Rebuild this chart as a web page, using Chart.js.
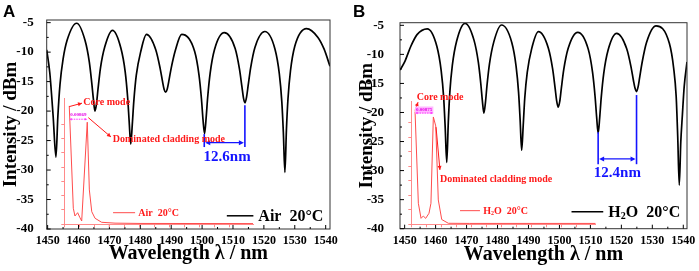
<!DOCTYPE html>
<html>
<head>
<meta charset="utf-8">
<script src="https://cdn.jsdelivr.net/npm/chart.js@4.4.1/dist/chart.umd.min.js"></script>
<style>
  html, body { margin: 0; padding: 0; background: #fff; }
  #wrap { position: relative; width: 699px; height: 271px; overflow: hidden; }
  canvas { position: absolute; top: 0; }
</style>
</head>
<body>
<div id="wrap">
  <canvas id="mainA" width="350" height="271" style="left:0"></canvas>
  <canvas id="insetA" width="350" height="271" style="left:0"></canvas>
  <canvas id="mainB" width="349" height="271" style="left:350px"></canvas>
  <canvas id="insetB" width="349" height="271" style="left:350px"></canvas>
</div>
<script>
// axis ticks
const tickWl = [1450, 1460, 1470, 1480, 1490, 1500, 1510, 1520, 1530, 1540];
const tickDb = [-40, -35, -30, -25, -20, -15, -10, -5];

// panel A : spectrum in air (wavelength nm, intensity dBm)
const wlA = [1449.7, 1450.7, 1451.8, 1452.7, 1453.3, 1454.0, 1455.0, 1456.3, 1459.4,
  1462.1, 1463.5, 1464.3, 1464.8, 1465.3, 1465.8, 1466.3, 1467.1, 1468.5, 1471.0,
  1473.7, 1475.1, 1475.9, 1476.4, 1476.9, 1477.4, 1477.9, 1478.7, 1480.1, 1482.0,
  1485.0, 1486.4, 1487.2, 1487.7, 1488.2, 1488.7, 1489.2, 1490.0, 1491.4, 1493.4,
  1497.6, 1499.0, 1499.8, 1500.3, 1500.8, 1501.3, 1501.8, 1502.6, 1504.0, 1507.2,
  1510.7, 1512.1, 1512.9, 1513.4, 1513.9, 1514.4, 1514.9, 1515.7, 1517.1, 1520.3,
  1523.6, 1525.0, 1525.8, 1526.3, 1526.8, 1527.3, 1527.8, 1528.6, 1530.0, 1533.8,
  1537.5, 1539.5, 1541.4];
const dbA = [-9.6, -13.5, -21.0, -27.8, -21.0, -15.5, -11.2, -8.0, -5.1,
  -8.0, -11.7, -15.3, -17.9, -20.0, -18.8, -16.3, -12.7, -9.1, -6.3,
  -9.3, -13.3, -17.7, -21.8, -25.6, -22.3, -18.3, -13.9, -10.0, -7.0,
  -9.6, -12.7, -15.0, -16.3, -16.8, -16.3, -15.0, -12.7, -9.6, -7.0,
  -9.9, -13.9, -18.0, -21.5, -23.8, -21.2, -17.7, -13.6, -9.6, -6.7,
  -9.4, -12.9, -15.9, -17.8, -18.6, -17.6, -15.7, -12.7, -9.2, -6.5,
  -9.5, -13.7, -18.4, -23.6, -30.4, -23.1, -17.9, -13.2, -9.0, -6.0,
  -7.5, -9.5, -12.4];

// panel B : spectrum in water
const wlB = [1448.5, 1450.0, 1452.0, 1454.0, 1457.3,
  1460.4, 1461.8, 1462.6, 1463.1, 1463.6, 1464.1, 1464.6, 1465.4, 1466.8, 1469.5,
  1472.4, 1473.8, 1474.6, 1475.1, 1475.6, 1476.1, 1476.6, 1477.4, 1478.8, 1481.3,
  1484.6, 1486.0, 1486.8, 1487.3, 1487.8, 1488.3, 1488.8, 1489.6, 1491.0, 1493.2,
  1496.4, 1497.8, 1498.6, 1499.1, 1499.6, 1500.1, 1500.6, 1501.4, 1502.8, 1505.9,
  1509.3, 1510.7, 1511.5, 1512.0, 1512.5, 1513.0, 1513.5, 1514.3, 1515.7, 1518.5,
  1521.7, 1523.1, 1523.9, 1524.4, 1524.9, 1525.4, 1525.9, 1526.7, 1528.1, 1531.2,
  1535.5, 1536.9, 1537.7, 1538.2, 1538.7, 1539.2, 1539.7, 1540.3, 1541.2];
const dbB = [-12.7, -11.3, -8.6, -6.6, -5.6,
  -8.6, -12.8, -17.4, -22.6, -28.6, -21.7, -16.5, -11.9, -7.7, -4.65,
  -7.55, -11.35, -15.05, -17.95, -20.1, -18.25, -15.35, -11.65, -7.85, -4.95,
  -7.95, -12.05, -16.55, -21.25, -26.5, -22.2, -17.5, -13.1, -9.1, -6.1,
  -8.9, -12.5, -15.8, -18.0, -19.1, -18.1, -15.9, -12.6, -9.0, -6.2,
  -9.1, -13.1, -17.2, -20.7, -23.6, -20.9, -17.4, -13.3, -9.3, -6.4,
  -9.0, -12.1, -14.5, -15.8, -16.4, -15.6, -14.0, -11.4, -8.0, -5.1,
  -8.1, -12.4, -17.2, -24.1, -32.5, -25.0, -20.5, -15.5, -11.3];

// insets: spatial frequency spectrum (arbitrary units)
const freqA = [0.33, 0.6, 0.71, 0.89, 1.03, 1.16, 1.53, 1.67, 1.83, 2.05, 2.49, 3.38, 5.05, 12.58];
const ampA = [8.27, 1.12, 0.58, 0.81, 0.49, 0.23, 7.13, 2.40, 0.88, 0.42, 0.14, 0.08, 0.06, 0.05];
const freqB = [0.25, 0.47, 0.65, 0.8, 0.96, 1.18, 1.31, 1.47, 1.63, 1.8, 2.03, 2.47, 3.9, 12.3];
const ampB = [7.77, 1.45, 0.41, 0.57, 0.41, 0.76, 1.45, 7.4, 6.78, 1.68, 0.33, 0.07, 0.06, 0.06];

const SERIF = "'Liberation Serif', 'Times New Roman', serif";
const RED = '#ff1a1a';
const INSET_AXIS = '#ff8a8a';
const BLUE = '#1414ff';
Chart.defaults.font.family = SERIF;

function line(ctx, x1, y1, x2, y2) {
  ctx.beginPath(); ctx.moveTo(x1, y1); ctx.lineTo(x2, y2); ctx.stroke();
}
function head(ctx, x, y, ang, len, w) {
  ctx.beginPath();
  ctx.moveTo(x, y);
  ctx.lineTo(x - len * Math.cos(ang) + w * Math.sin(ang), y - len * Math.sin(ang) - w * Math.cos(ang));
  ctx.lineTo(x - len * Math.cos(ang) - w * Math.sin(ang), y - len * Math.sin(ang) + w * Math.cos(ang));
  ctx.closePath(); ctx.fill();
}
// text with "_2" style subscripts
function rich(ctx, text, x, y, size) {
  let cx = x;
  for (let i = 0; i < text.length; i++) {
    if (text[i] === '_') {
      i++;
      ctx.font = 'bold ' + Math.round(size * 0.6) + 'px ' + SERIF;
      ctx.fillText(text[i], cx, y + size * 0.22);
      cx += ctx.measureText(text[i]).width;
    } else {
      ctx.font = 'bold ' + size + 'px ' + SERIF;
      ctx.fillText(text[i], cx, y);
      cx += ctx.measureText(text[i]).width;
    }
  }
}

function mainDeco(o) {
  return {
    id: 'mainDeco',
    afterDraw(chart) {
      const { ctx, chartArea: a, scales: { x, y } } = chart;
      ctx.save();
      ctx.strokeStyle = '#333';
      ctx.lineWidth = 1;
      ctx.strokeRect(a.left, a.top, a.right - a.left, a.bottom - a.top);
      // inward ticks
      ctx.strokeStyle = '#000';
      ctx.beginPath();
      tickWl.forEach(v => {
        const p = x.getPixelForValue(v);
        ctx.moveTo(p, a.bottom); ctx.lineTo(p, a.bottom - 4);
        if (v + 5 < x.max) {
          const m = x.getPixelForValue(v + 5);
          ctx.moveTo(m, a.bottom); ctx.lineTo(m, a.bottom - 2);
        }
      });
      tickDb.forEach(v => {
        const p = y.getPixelForValue(v);
        ctx.moveTo(a.left, p); ctx.lineTo(a.left + 4, p);
        if (v + 2.5 < y.max) {
          const m = y.getPixelForValue(v + 2.5);
          ctx.moveTo(a.left, m); ctx.lineTo(a.left + 2, m);
        }
      });
      ctx.stroke();

      // period marker
      const d = o.dim;
      const x1 = x.getPixelForValue(d.x1), x2 = x.getPixelForValue(d.x2);
      ctx.strokeStyle = BLUE; ctx.fillStyle = BLUE; ctx.lineWidth = 1.6;
      line(ctx, x1, y.getPixelForValue(d.top1), x1, y.getPixelForValue(d.bottom));
      line(ctx, x2, y.getPixelForValue(d.top2), x2, y.getPixelForValue(d.bottom));
      const ay = y.getPixelForValue(d.arrowY);
      ctx.lineWidth = 1.2;
      line(ctx, x1 + 3, ay, x2 - 3, ay);
      head(ctx, x1 + 1, ay, Math.PI, 5, 2.5);
      head(ctx, x2 - 1, ay, 0, 5, 2.5);
      ctx.font = 'bold 15px ' + SERIF;
      ctx.textAlign = 'center'; ctx.textBaseline = 'middle';
      ctx.fillText(d.label, x.getPixelForValue(d.labelX), y.getPixelForValue(d.labelY));

      // legend
      const l = o.legend;
      ctx.strokeStyle = '#000'; ctx.fillStyle = '#000'; ctx.lineWidth = 1.5;
      const ly = y.getPixelForValue(l.y);
      line(ctx, x.getPixelForValue(l.x1), ly, x.getPixelForValue(l.x2), ly);
      ctx.textAlign = 'left'; ctx.textBaseline = 'middle';
      rich(ctx, l.text, x.getPixelForValue(l.tx), ly + 1, 16);

      // panel letter
      ctx.font = 'bold 17px "Liberation Sans", Arial, sans-serif';
      ctx.textBaseline = 'alphabetic';
      ctx.fillText(o.letter, 3, 16.5);
      ctx.restore();
    }
  };
}

function insetDeco(o) {
  return {
    id: 'insetDeco',
    afterDraw(chart) {
      const { ctx, scales: { x, y } } = chart;
      const px = v => x.getPixelForValue(v), py = v => y.getPixelForValue(v);
      ctx.save();
      ctx.strokeStyle = RED; ctx.fillStyle = RED; ctx.lineWidth = 1;
      ctx.textAlign = 'left'; ctx.textBaseline = 'middle';
      // core mode label
      const c = o.core;
      line(ctx, px(c.from[0]), py(c.from[1]), px(c.to[0]), py(c.to[1]));
      head(ctx, px(c.to[0]), py(c.to[1]), Math.atan2(py(c.to[1]) - py(c.from[1]), px(c.to[0]) - px(c.from[0])), 4, 2);
      ctx.font = 'bold 10px ' + SERIF;
      ctx.fillText('Core mode', px(c.tx), py(c.ty));
      // cladding mode label
      const m = o.clad;
      line(ctx, px(m.from[0]), py(m.from[1]), px(m.to[0]), py(m.to[1]));
      head(ctx, px(m.to[0]), py(m.to[1]), Math.atan2(py(m.to[1]) - py(m.from[1]), px(m.to[0]) - px(m.from[0])), 4, 2);
      ctx.fillText('Dominated cladding mode', px(m.tx), py(m.ty));
      // frequency spacing
      const s = o.gap;
      if (s.box) {
        ctx.fillStyle = '#ffb8ff';
        ctx.fillRect(px(s.x1), py(s.ty) - 3.5, px(s.x2) - px(s.x1), 7);
      }
      ctx.strokeStyle = '#ff33ff'; ctx.fillStyle = '#ff33ff';
      ctx.setLineDash([1.5, 1]);
      line(ctx, px(s.x1) + 2, py(s.y), px(s.x2) - 2, py(s.y));
      ctx.setLineDash([]);
      head(ctx, px(s.x1), py(s.y), Math.PI, 2.5, 1.3);
      head(ctx, px(s.x2), py(s.y), 0, 2.5, 1.3);
      ctx.fillStyle = '#e600e6';
      ctx.font = 'bold 5px ' + SERIF;
      ctx.textAlign = 'center';
      ctx.fillText(s.text, (px(s.x1) + px(s.x2)) / 2, py(s.ty));
      // inset legend
      const g = o.legend;
      ctx.strokeStyle = '#ff4c4c'; ctx.fillStyle = RED; ctx.lineWidth = 1;
      line(ctx, px(g.x1), py(g.y), px(g.x2), py(g.y));
      ctx.textAlign = 'left';
      rich(ctx, g.text, px(g.tx), py(g.y) + 0.5, 10);
      ctx.restore();
    }
  };
}

function fixedTicks(list) {
  return s => { s.ticks = list.map(v => ({ value: v })); };
}
function intTicks(s) {
  s.ticks = s.ticks.filter(t => Number.isInteger(t.value));
}

function mainChart(id, wl, db, o) {
  return new Chart(document.getElementById(id), {
    type: 'line',
    data: {
      datasets: [{
        data: wl.map((v, i) => ({ x: v, y: db[i] })),
        borderColor: '#000',
        borderWidth: 1.7,
        pointRadius: 0,
        cubicInterpolationMode: 'monotone',
        fill: false
      }]
    },
    options: {
      responsive: false,
      animation: false,
      layout: { padding: o.pad },
      plugins: { legend: { display: false }, tooltip: { enabled: false } },
      scales: {
        x: {
          type: 'linear', min: o.xmin, max: o.xmax, bounds: 'data',
          afterBuildTicks: fixedTicks(tickWl),
          afterFit: s => { s.height = o.xh; },
          grid: { display: false }, border: { display: false },
          ticks: { color: '#000', padding: -3, maxRotation: 0, autoSkip: false,
            font: { weight: 'bold', size: 12 }, callback: v => String(v) },
          title: { display: true, text: 'Wavelength λ / nm', color: '#000',
            font: { weight: 'bold', size: 20 }, padding: { top: 0, bottom: o.xtPad } }
        },
        y: {
          type: 'linear', min: -40, max: -4.55, bounds: 'data',
          afterBuildTicks: fixedTicks(tickDb),
          afterFit: s => { s.width = o.yw; },
          grid: { display: false }, border: { display: false },
          ticks: { color: '#000', padding: o.ytickPad, autoSkip: false,
            font: { weight: 'bold', size: 13 }, callback: v => String(v) },
          title: { display: true, text: 'Intensity / dBm', color: '#000',
            font: { weight: 'bold', size: 19 }, padding: { top: o.ytPad, bottom: 0 } }
        }
      }
    },
    plugins: [mainDeco(o)]
  });
}

function insetChart(id, f, amp, o) {
  const axis = {
    type: 'linear', min: 0, bounds: 'data',
    afterBuildTicks: intTicks,
    ticks: { display: false, stepSize: 1 },
    grid: { drawOnChartArea: false, drawTicks: true, tickLength: 3, color: INSET_AXIS, lineWidth: 1 },
    border: { display: true, color: INSET_AXIS, width: 1 }
  };
  return new Chart(document.getElementById(id), {
    type: 'line',
    data: {
      datasets: [{
        data: f.map((v, i) => ({ x: v, y: amp[i] })),
        borderColor: '#ff4c4c',
        borderWidth: 1,
        pointRadius: 0,
        tension: 0,
        fill: false
      }]
    },
    options: {
      responsive: false,
      animation: false,
      layout: { padding: o.pad },
      plugins: { legend: { display: false }, tooltip: { enabled: false } },
      scales: {
        x: Object.assign({}, axis, { max: o.fmax, afterFit: s => { s.height = 0; } }),
        y: Object.assign({}, axis, { max: o.amax, afterFit: s => { s.width = 0; } })
      }
    },
    plugins: [insetDeco(o)]
  });
}

mainChart('mainA', wlA, dbA, {
  letter: 'A', xmin: 1449.7, xmax: 1541.4,
  pad: { left: 0, right: 20, top: 20, bottom: 0 }, xh: 42, yw: 46.7,
  xtPad: 5, ytPad: 0, ytickPad: 5,
  dim: { x1: 1500.7, x2: 1513.85, top1: -23.9, top2: -19.0, bottom: -26.1, arrowY: -25.35,
    label: '12.6nm', labelX: 1508.1, labelY: -27.8 },
  legend: { x1: 1508, x2: 1516.6, y: -37.76, tx: 1518.2, text: 'Air  20°C' }
});
mainChart('mainB', wlB, dbB, {
  letter: 'B', xmin: 1448.5, xmax: 1541.2,
  pad: { left: 0, right: 12, top: 22.7, bottom: 0 }, xh: 42.3, yw: 50,
  xtPad: 4, ytPad: 6, ytickPad: 8,
  dim: { x1: 1512.5, x2: 1524.9, top1: -23.4, top2: -17.0, bottom: -28.9, arrowY: -28.0,
    label: '12.4nm', labelX: 1518.7, labelY: -30.5 },
  legend: { x1: 1503.9, x2: 1514.15, y: -37.1, tx: 1515.8, text: 'H_2O  20°C' }
});
insetChart('insetA', freqA, ampA, {
  fmax: 12.6, amax: 8.8,
  pad: { left: 64.3, right: 96.7, top: 98.3, bottom: 46.7 },
  core: { from: [0.33, 8.22], to: [1.18, 8.46], tx: 1.27, ty: 8.5 },
  clad: { from: [1.6, 7.45], to: [3.11, 6.1], tx: 3.23, ty: 5.94 },
  gap: { x1: 0.33, x2: 1.53, y: 7.34, text: '0.00869', ty: 7.64, box: false },
  legend: { x1: 3.25, x2: 4.72, y: 0.81, tx: 4.93, text: 'Air  20°C' }
});
insetChart('insetB', freqB, ampB, {
  fmax: 12.3, amax: 8.5,
  pad: { left: 61.3, right: 103.3, top: 101, bottom: 46.7 },
  core: { from: [0.25, 7.85], to: [0.45, 8.42], tx: 0.36, ty: 8.73 },
  clad: { from: [1.65, 6.7], to: [1.91, 3.75], tx: 1.91, ty: 3.1 },
  gap: { x1: 0.25, x2: 1.47, y: 7.67, text: '0.00875', ty: 7.88, box: true },
  legend: { x1: 3.25, x2: 4.58, y: 0.94, tx: 4.8, text: 'H_2O  20°C' }
});
</script>
</body>
</html>
